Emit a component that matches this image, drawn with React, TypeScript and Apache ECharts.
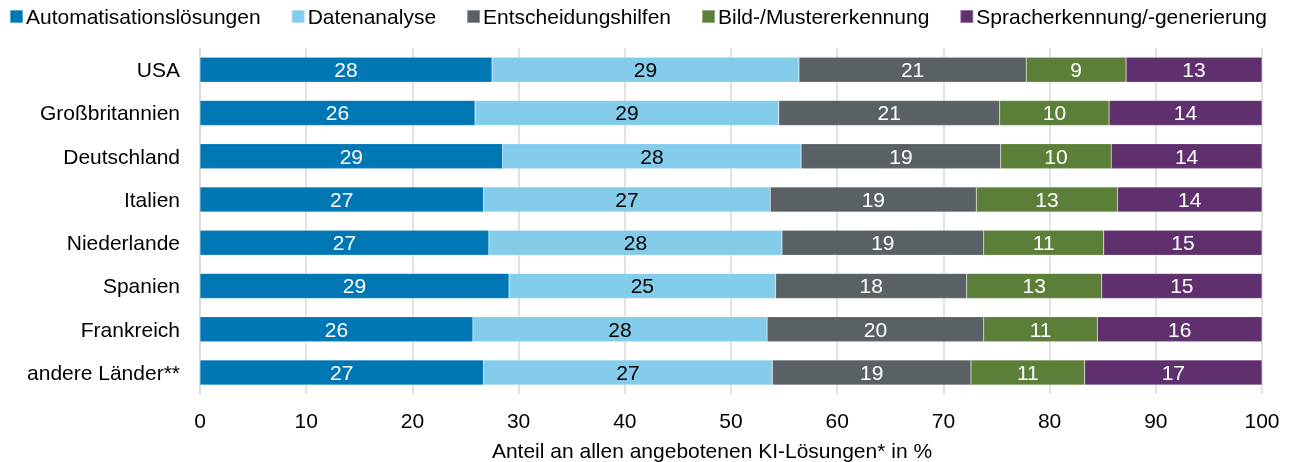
import React, { useEffect, useRef } from "react";
import * as echarts from "echarts";

const countries = ["USA", "Großbritannien", "Deutschland", "Italien", "Niederlande", "Spanien", "Frankreich", "andere Länder**"];
const seriesNames = ["Automatisationslösungen", "Datenanalyse", "Entscheidungshilfen", "Bild-/Mustererkennung", "Spracherkennung/-generierung"];

// shares in % (measured from bar lengths)
const automatisation = [27.5, 25.9, 28.5, 26.7, 27.2, 29.1, 25.7, 26.7];
const datenanalyse = [28.9, 28.6, 28.1, 27.0, 27.6, 25.1, 27.7, 27.2];
const entscheidung = [21.4, 20.8, 18.8, 19.4, 19.0, 18.0, 20.4, 18.7];
const bildMuster = [9.4, 10.3, 10.4, 13.3, 11.3, 12.7, 10.7, 10.7];
const sprache = [12.8, 14.4, 14.2, 13.6, 14.9, 15.1, 15.5, 16.7];

// printed labels
const automatisationLabels = [28, 26, 29, 27, 27, 29, 26, 27];
const datenanalyseLabels = [29, 29, 28, 27, 28, 25, 28, 27];
const entscheidungLabels = [21, 21, 19, 19, 19, 18, 20, 19];
const bildMusterLabels = [9, 10, 10, 13, 11, 13, 11, 11];
const spracheLabels = [13, 14, 14, 14, 15, 15, 16, 17];

const xTicks = { min: 0, max: 100, interval: 10 };
const colors = ["#0077b5", "#83cdeb", "#5a6165", "#5b7e38", "#60306e"];
const labelColors = ["#ffffff", "#000000", "#ffffff", "#ffffff", "#ffffff"];

export default function App() {
  const ref = useRef<HTMLDivElement>(null);
  useEffect(() => {
    if (!ref.current) return;
    const chart = echarts.init(ref.current, null, { renderer: "svg" });
    const values = [automatisation, datenanalyse, entscheidung, bildMuster, sprache];
    const labels = [automatisationLabels, datenanalyseLabels, entscheidungLabels, bildMusterLabels, spracheLabels];
    const font = "'Liberation Sans', Arial, sans-serif";
    const fs = 21;
    chart.setOption({
      animation: false,
      textStyle: { fontFamily: font },
      legend: {
        left: 9,
        top: 6,
        padding: [0, 0, 0, 0],
        itemWidth: 13,
        itemHeight: 13,
        itemGap: 30,
        icon: "rect",
        textStyle: { fontSize: fs, color: "#000", fontFamily: font, padding: [0, 0, 0, -2] },
        data: seriesNames,
      },
      grid: { left: 200, right: 32, top: 48, bottom: 68, outerBoundsMode: "none", containLabel: false },
      xAxis: {
        type: "value",
        min: xTicks.min,
        max: xTicks.max,
        interval: xTicks.interval,
        axisLine: { show: false },
        axisTick: { show: false },
        splitLine: { show: true, lineStyle: { color: "#d9d9d9", width: 1.5 } },
        axisLabel: { fontSize: fs, color: "#000", margin: 16, fontFamily: font },
        name: "Anteil an allen angebotenen KI-Lösungen* in %",
        nameLocation: "middle",
        nameGap: 46,
        nameTextStyle: { fontSize: fs, color: "#000", fontFamily: font, padding: [0, 38, 0, 0] },
      },
      yAxis: {
        type: "category",
        inverse: true,
        data: countries,
        axisLine: { show: true, lineStyle: { color: "#d9d9d9", width: 1.5 } },
        axisTick: { show: false },
        axisLabel: { fontSize: fs, color: "#000", margin: 20, fontFamily: font },
      },
      series: seriesNames.map((name, i) => ({
        name,
        type: "bar",
        stack: "total",
        barWidth: 25,
        itemStyle: { color: colors[i], borderColor: "rgba(255,255,255,0.35)", borderWidth: 0.5 },
        label: {
          show: true,
          position: "inside",
          fontSize: fs,
          color: labelColors[i],
          fontFamily: font,
          formatter: (p: any) => String(labels[i][p.dataIndex]),
        },
        data: values[i],
      })),
    });
    return () => chart.dispose();
  }, []);
  return <div ref={ref} style={{ position: "fixed", left: 0, top: 0, width: 1294, height: 462 }} />;
}
